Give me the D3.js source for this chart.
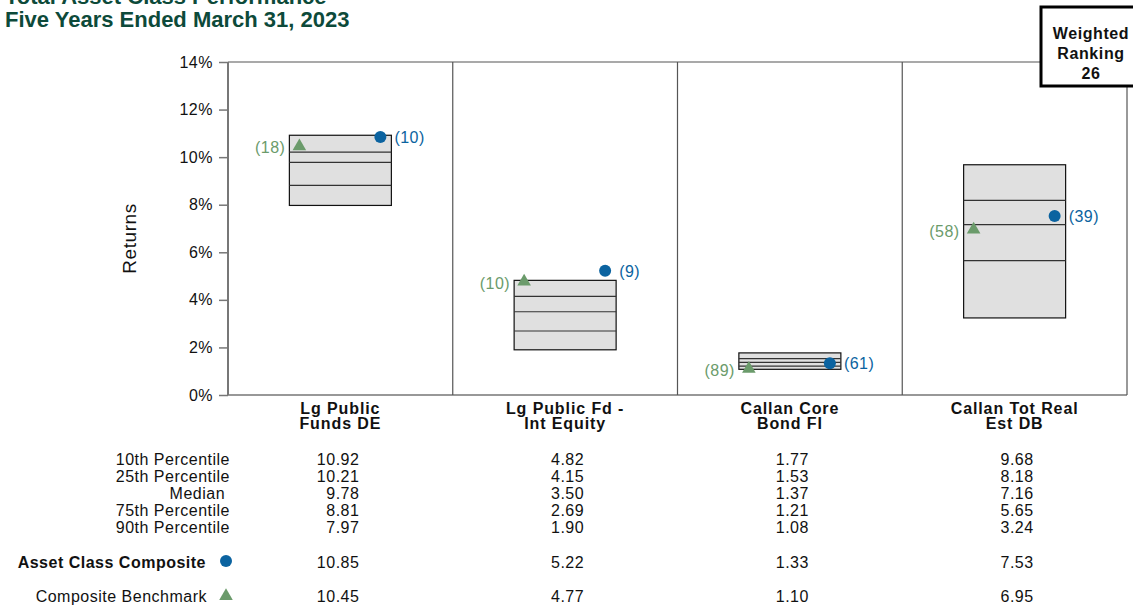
<!DOCTYPE html>
<html>
<head>
<meta charset="utf-8">
<script src="https://cdn.jsdelivr.net/npm/d3@7"></script>
<style>
body { margin: 0; background: #fff; }
svg { display: block; font-family: "Liberation Sans", Arial, sans-serif; }
</style>
</head>
<body>
<div id="chart"></div>
<script>
// data
const categories = ['Lg Public|Funds DE', 'Lg Public Fd -|Int Equity', 'Callan Core|Bond FI', 'Callan Tot Real|Est DB'];
const p10 = [10.92, 4.82, 1.77, 9.68];
const p25 = [10.21, 4.15, 1.53, 8.18];
const median = [9.78, 3.50, 1.37, 7.16];
const p75 = [8.81, 2.69, 1.21, 5.65];
const p90 = [7.97, 1.90, 1.08, 3.24];
const composite = [10.85, 5.22, 1.33, 7.53];
const compositeRank = [10, 9, 61, 39];
const benchmark = [10.45, 4.77, 1.10, 6.95];
const benchmarkRank = [18, 10, 89, 58];
const yTicks = [0, 2, 4, 6, 8, 10, 12, 14];
const rowLabels = ['10th Percentile', '25th Percentile', 'Median ', '75th Percentile', '90th Percentile'];

const W = 1133, H = 606;
const margin = {left: 228, right: 6, top: 62, bottom: 211};
const width = W - margin.left - margin.right,
	height = H - margin.top - margin.bottom;

const blue = '#0b63a0', green = '#6b9b6b', title = '#0d4a3a';
const fs = 16, ls = 0.5;

let svg = d3.select('#chart').append('svg')
	.attr('width', W).attr('height', H);

// titles
svg.append('text').attr('x', 5).attr('y', 4)
	.attr('font-size', 22).attr('font-weight', 'bold').attr('fill', title)
	.text('Total Asset Class Performance');
svg.append('text').attr('x', 5).attr('y', 27)
	.attr('font-size', 22).attr('font-weight', 'bold').attr('fill', title)
	.text('Five Years Ended March 31, 2023');

let x = d3.scaleBand().domain(d3.range(categories.length)).range([0, width]);
let y = d3.scaleLinear().domain([0, 14]).range([height, 0]);

let g = svg.append('g').attr('transform', 'translate(' + margin.left + ',' + margin.top + ')');

// frame
g.append('line').attr('x1', 0).attr('x2', width).attr('y1', 0).attr('y2', 0)
	.attr('stroke', '#555').attr('stroke-width', 1.2);
g.append('line').attr('x1', 0).attr('x2', width).attr('y1', height).attr('y2', height)
	.attr('stroke', '#333').attr('stroke-width', 1.2);
g.selectAll('.divider').data(d3.range(1, categories.length + 1)).enter()
	.append('line').attr('class', 'divider')
	.attr('x1', d => x(d - 1) + x.bandwidth()).attr('x2', d => x(d - 1) + x.bandwidth())
	.attr('y1', 0).attr('y2', height)
	.attr('stroke', '#555').attr('stroke-width', 1.2);

let yAxis = d3.axisLeft(y).tickValues(yTicks).tickSize(9).tickFormat(d => d + '%');
let ya = g.append('g').call(yAxis);
ya.select('.domain').attr('stroke', '#777').attr('stroke-width', 2).attr('d', 'M0,0V' + height);
ya.selectAll('.tick line').attr('stroke', '#777').attr('stroke-width', 1.5);
ya.selectAll('.tick text').attr('font-size', fs).attr('fill', '#111').attr('x', -15)
	.attr('letter-spacing', ls)
	.attr('font-family', '"Liberation Sans", Arial, sans-serif');

svg.append('text')
	.attr('transform', 'translate(136,' + (margin.top + height / 2 + 10) + ') rotate(-90)')
	.attr('text-anchor', 'middle').attr('font-size', 19).attr('fill', '#111')
	.attr('letter-spacing', 0.6)
	.text('Returns');

// boxes
const bw = 102;
let boxes = g.selectAll('.box').data(categories).enter().append('g')
	.attr('class', 'box')
	.attr('transform', (d, i) => 'translate(' + (x(i) + x.bandwidth() / 2 - bw / 2) + ',0)');

boxes.append('rect')
	.attr('x', 0).attr('width', bw)
	.attr('y', (d, i) => y(p10[i]))
	.attr('height', (d, i) => y(p90[i]) - y(p10[i]))
	.attr('fill', '#e0e0e0').attr('stroke', '#111').attr('stroke-width', 1.2);

[p25, median, p75].forEach(arr => {
	boxes.append('line')
		.attr('x1', 0).attr('x2', bw)
		.attr('y1', (d, i) => y(arr[i])).attr('y2', (d, i) => y(arr[i]))
		.attr('stroke', '#333').attr('stroke-width', 1.2);
});

// benchmark triangles
boxes.append('path')
	.attr('d', d3.symbol().type(d3.symbolTriangle).size(80))
	.attr('transform', (d, i) => 'translate(10,' + y(benchmark[i]) + ')')
	.attr('fill', green);
boxes.append('text')
	.attr('x', -4).attr('y', (d, i) => y(benchmark[i]) + 7)
	.attr('text-anchor', 'end').attr('font-size', fs).attr('letter-spacing', ls).attr('fill', green)
	.text((d, i) => '(' + benchmarkRank[i] + ')');

// composite circles
boxes.append('circle')
	.attr('cx', bw - 11).attr('cy', (d, i) => y(composite[i]))
	.attr('r', 6).attr('fill', blue);
boxes.append('text')
	.attr('x', bw + 3).attr('y', (d, i) => y(composite[i]) + 6)
	.attr('font-size', fs).attr('letter-spacing', ls).attr('fill', blue)
	.text((d, i) => '(' + compositeRank[i] + ')');

// category labels
g.selectAll('.cat').data(categories).enter().append('text')
	.attr('class', 'cat')
	.attr('x', (d, i) => x(i) + x.bandwidth() / 2).attr('y', height + 19)
	.attr('text-anchor', 'middle').attr('font-size', 16).attr('font-weight', 'bold')
	.attr('fill', '#111').attr('letter-spacing', 0.9)
	.each(function(d) {
		let parts = d.split('|');
		d3.select(this).selectAll('tspan').data(parts).enter().append('tspan')
			.attr('x', d3.select(this).attr('x'))
			.attr('dy', (p, j) => j ? 15 : 0)
			.text(p => p);
	});

// table
const rowY = [465, 482, 499, 516, 533];
const tableData = [p10, p25, median, p75, p90];
const valX = i => margin.left + x(i) + x.bandwidth() / 2 + 19;
let tbl = svg.append('g').attr('font-size', fs).attr('letter-spacing', ls).attr('fill', '#111');
rowLabels.forEach((lab, r) => {
	tbl.append('text').attr('x', 230).attr('y', rowY[r])
		.attr('text-anchor', 'end')
		.attr('xml:space', 'preserve')
		.text(lab);
	tbl.selectAll('.v' + r).data(tableData[r]).enter().append('text')
		.attr('x', (d, i) => valX(i))
		.attr('y', rowY[r])
		.attr('text-anchor', 'end')
		.text(d => d.toFixed(2));
});

tbl.append('text').attr('x', 206).attr('y', 568)
	.attr('text-anchor', 'end').attr('font-weight', 'bold')
	.text('Asset Class Composite');
tbl.append('circle').attr('cx', 226).attr('cy', 561).attr('r', 6).attr('fill', blue);
tbl.selectAll('.vc').data(composite).enter().append('text')
	.attr('x', (d, i) => valX(i))
	.attr('y', 568).attr('text-anchor', 'end')
	.text(d => d.toFixed(2));

tbl.append('text').attr('x', 207).attr('y', 602)
	.attr('text-anchor', 'end')
	.text('Composite Benchmark');
tbl.append('path').attr('d', d3.symbol().type(d3.symbolTriangle).size(80))
	.attr('transform', 'translate(226,596)').attr('fill', green);
tbl.selectAll('.vb').data(benchmark).enter().append('text')
	.attr('x', (d, i) => valX(i))
	.attr('y', 602).attr('text-anchor', 'end')
	.text(d => d.toFixed(2));

// weighted ranking box
let rk = svg.append('g');
rk.append('rect').attr('x', 1042).attr('y', 8).attr('width', 100).attr('height', 79)
	.attr('fill', '#333');
rk.append('rect').attr('x', 1041).attr('y', 7).attr('width', 100).attr('height', 79)
	.attr('fill', '#fff').attr('stroke', '#000').attr('stroke-width', 3);
['Weighted', 'Ranking', '26'].forEach((t, i) => {
	rk.append('text').attr('x', 1091).attr('y', 39 + i * 20)
		.attr('text-anchor', 'middle').attr('font-size', 16).attr('font-weight', 'bold')
		.attr('fill', '#111').attr('letter-spacing', 0.6).text(t);
});
</script>
</body>
</html>
